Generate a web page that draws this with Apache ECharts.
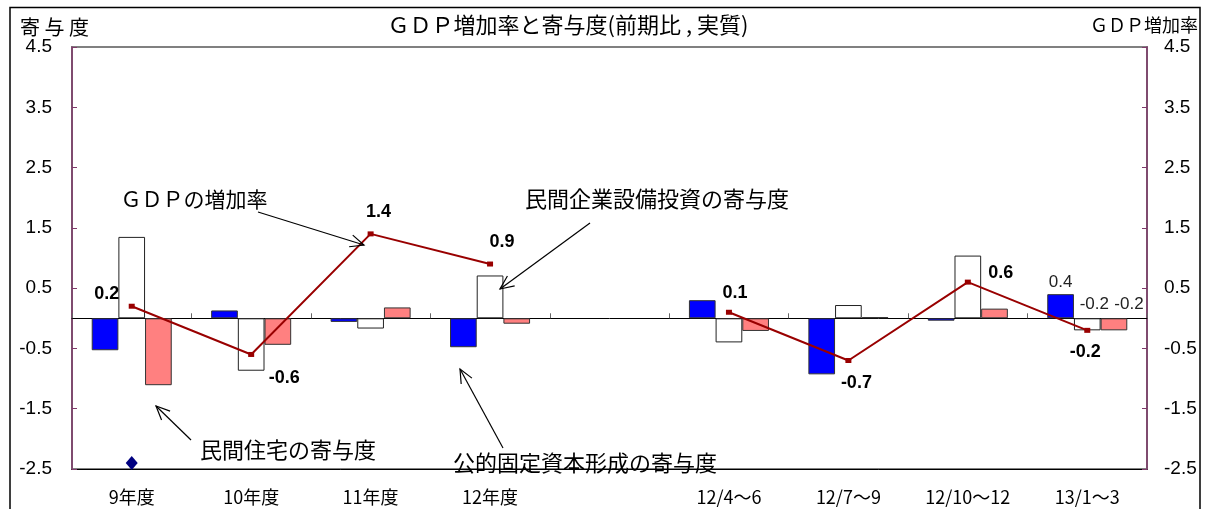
<!DOCTYPE html>
<html>
<head>
<meta charset="utf-8">
<style>
  html, body { margin: 0; padding: 0; background: #fff; }
  #chart { width: 1205px; height: 509px; }
</style>
<script src="https://cdn.jsdelivr.net/npm/echarts@6/dist/echarts.min.js"></script>
</head>
<body>
<div id="chart"></div>
<script>
// Categories: fiscal years, a spacer slot, then quarters of FY12
const categories = ['9年度', '10年度', '11年度', '12年度', '', '12/4～6', '12/7～9', '12/10～12', '13/1～3'];

// Contributions to GDP growth (percentage points)
const publicInvestment = [-0.53, 0.13, -0.06, -0.48, null, 0.30, -0.93, -0.04, 0.4];
const privateCapex     = [1.35, -0.87, -0.17, 0.71, null, -0.40, 0.22, 1.04, -0.2];
const privateHousing   = [-1.11, -0.44, 0.18, -0.09, null, -0.21, 0.02, 0.16, -0.2];

// Real GDP growth (%)
const gdpGrowth = [0.2, -0.6, 1.4, 0.9, null, 0.1, -0.7, 0.6, -0.2];

// Lone marker at the foot of the first category
const baseMarker = [-2.4, null, null, null, null, null, null, null, null];

// Value-axis range and step shared by both axes
const axisMin = -2.5;
const axisMax = 4.5;
const axisStep = 1;

// Label offsets for the GDP line values (pixels, relative to each point)
const gdpLabelOffsets = [[-25, -12], [33, 24], [8, -22], [12, -22], [0, 0], [6, -19], [8, 23], [33, -9], [-2, 22]];

const CJK = '"Noto Sans CJK JP", "Noto Sans CJK SC", sans-serif';
const LAT = '"Liberation Sans", Arial, sans-serif';
const AXIS_PURPLE = '#7F3A6A';

const lastIdx = categories.length - 1;

function barData(values, labelOpt) {
  return values.map((v, i) => {
    if (i === lastIdx && v !== null) {
      return { value: v, label: Object.assign({ show: true }, labelOpt) };
    }
    return v;
  });
}

const barLabelBase = {
  fontFamily: LAT, fontSize: 17, color: '#222', position: 'top', distance: 3,
  formatter: p => p.value.toFixed(1)
};

const chart = echarts.init(document.getElementById('chart'), null, { renderer: 'canvas' });

const option = {
  animation: false,
  backgroundColor: '#fff',
  grid: {
    left: 72, right: 58, top: 47, bottom: 40,
    show: true, borderColor: '#808080', borderWidth: 2, backgroundColor: 'transparent'
  },
  xAxis: [
    {
      type: 'category', data: categories, position: 'bottom',
      axisLine: { onZero: false, lineStyle: { color: '#000', width: 1 } },
      axisTick: { show: false },
      axisLabel: { fontFamily: CJK, fontSize: 18, color: '#000', margin: 19, interval: 0 },
      splitLine: { show: false }
    },
    {
      type: 'category', data: categories, position: 'top',
      axisLine: { onZero: true, lineStyle: { color: '#000', width: 1 } },
      axisTick: { show: true, inside: false, length: 5, lineStyle: { color: '#666' } },
      axisLabel: { show: false },
      splitLine: { show: false }
    }
  ],
  yAxis: [
    {
      type: 'value', min: axisMin, max: axisMax, interval: axisStep, position: 'left',
      axisLine: { show: true, lineStyle: { color: AXIS_PURPLE, width: 1.5 } },
      axisTick: { show: true, inside: true, length: 5, lineStyle: { color: AXIS_PURPLE } },
      axisLabel: { fontFamily: LAT, fontSize: 19, color: '#000', margin: 20, formatter: v => v.toFixed(1) },
      splitLine: { show: false }
    },
    {
      type: 'value', min: axisMin, max: axisMax, interval: axisStep, position: 'right',
      axisLine: { show: true, lineStyle: { color: AXIS_PURPLE, width: 1.5 } },
      axisTick: { show: true, inside: true, length: 5, lineStyle: { color: AXIS_PURPLE } },
      axisLabel: { fontFamily: LAT, fontSize: 19, color: '#000', margin: 17, formatter: v => v.toFixed(1) },
      splitLine: { show: false }
    }
  ],
  series: [
    {
      name: '公的固定資本形成の寄与度', type: 'bar', xAxisIndex: 0, yAxisIndex: 0,
      barGap: '0%', barCategoryGap: '33%',
      itemStyle: { color: '#0000FF', borderColor: '#333', borderWidth: 1 },
      data: barData(publicInvestment, Object.assign({}, barLabelBase, { offset: [0, 0] }))
    },
    {
      name: '民間企業設備投資の寄与度', type: 'bar', xAxisIndex: 0, yAxisIndex: 0,
      barGap: '0%', barCategoryGap: '33%',
      itemStyle: { color: '#FFFFFF', borderColor: '#222', borderWidth: 1 },
      data: barData(privateCapex, Object.assign({}, barLabelBase, { offset: [7, 0], distance: 5 }))
    },
    {
      name: '民間住宅の寄与度', type: 'bar', xAxisIndex: 0, yAxisIndex: 0,
      barGap: '0%', barCategoryGap: '33%',
      itemStyle: { color: '#FF8080', borderColor: '#333', borderWidth: 1 },
      data: barData(privateHousing, Object.assign({}, barLabelBase, { offset: [15, 0], distance: 5 }))
    },
    {
      name: 'ＧＤＰの増加率', type: 'line', xAxisIndex: 0, yAxisIndex: 1,
      connectNulls: false, z: 5,
      symbol: 'rect', symbolSize: [6, 5],
      lineStyle: { color: '#990000', width: 2 },
      itemStyle: { color: '#990000' },
      data: gdpGrowth.map((v, i) => v === null ? null : {
        value: v,
        label: {
          show: true, position: 'inside', offset: gdpLabelOffsets[i],
          fontFamily: LAT, fontSize: 18, fontWeight: 'bold', color: '#000',
          formatter: p => p.value.toFixed(1)
        }
      })
    },
    {
      name: 'marker', type: 'scatter', xAxisIndex: 0, yAxisIndex: 0, z: 6,
      symbol: 'diamond', symbolSize: [12, 14],
      itemStyle: { color: '#000080', opacity: 1 },
      data: baseMarker
    }
  ]
};

chart.setOption(option);

// Annotation callouts: text plus an open-headed arrow
const callouts = [
  { text: 'ＧＤＰの増加率', tx: 194, ty: 199, from: [258, 212], to: [364, 245] },
  { text: '民間企業設備投資の寄与度', tx: 657, ty: 199, from: [590, 223], to: [500, 289] },
  { text: '民間住宅の寄与度', tx: 288, ty: 450, from: [191, 440], to: [156, 406] },
  { text: '公的固定資本形成の寄与度', tx: 585, ty: 463, from: [503, 448], to: [460, 369] }
];

function arrowHead(from, to, len, spread) {
  const ang = Math.atan2(to[1] - from[1], to[0] - from[0]);
  const a1 = ang + Math.PI - spread, a2 = ang + Math.PI + spread;
  return [
    [to[0] + len * Math.cos(a1), to[1] + len * Math.sin(a1)],
    to,
    [to[0] + len * Math.cos(a2), to[1] + len * Math.sin(a2)]
  ];
}

const graphics = [
  {
    type: 'rect', silent: true, z: 100,
    shape: { x: 10, y: 7.5, width: 1190, height: 520 },
    style: { fill: null, stroke: '#000', lineWidth: 1.5 }
  },
  {
    type: 'text', z: 100,
    style: { text: 'ＧＤＰ増加率と寄与度(前期比 , 実質)', x: 568, y: 25, font: '22px ' + CJK,
             fill: '#000', align: 'center', verticalAlign: 'middle', textAlign: 'center', textVerticalAlign: 'middle' }
  },
  {
    type: 'text', z: 100,
    style: { text: '寄 与 度', x: 20, y: 27, font: '20px ' + CJK,
             fill: '#000', align: 'left', verticalAlign: 'middle', textAlign: 'left', textVerticalAlign: 'middle' }
  },
  {
    type: 'text', z: 100,
    style: { text: 'ＧＤＰ増加率', x: 1198, y: 25, font: '18px ' + CJK,
             fill: '#000', align: 'right', verticalAlign: 'middle', textAlign: 'right', textVerticalAlign: 'middle' }
  }
];

callouts.forEach((c, i) => {
  graphics.push({
    type: 'text', z: 100,
    style: { text: c.text, x: c.tx, y: c.ty, font: (i === 0 ? '21px ' : '22px ') + CJK, fill: '#000',
             align: 'center', verticalAlign: 'middle', textAlign: 'center', textVerticalAlign: 'middle' }
  });
  graphics.push({
    type: 'line', z: 100, silent: true,
    shape: { x1: c.from[0], y1: c.from[1], x2: c.to[0], y2: c.to[1] },
    style: { stroke: '#000', lineWidth: 1.2 }
  });
  graphics.push({
    type: 'polyline', z: 100, silent: true,
    shape: { points: arrowHead(c.from, c.to, 15, 0.42) },
    style: { stroke: '#000', lineWidth: 1.2, fill: null }
  });
});

chart.setOption({ graphic: graphics });
</script>
</body>
</html>
